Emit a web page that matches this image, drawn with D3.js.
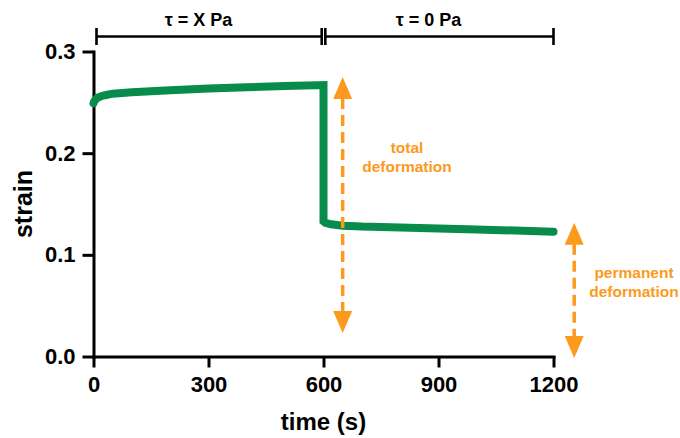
<!DOCTYPE html>
<html lang="en">
  <head>
    <meta charset="UTF-8" />
    <title>creep recovery</title>
    <script src="https://cdn.jsdelivr.net/npm/d3@7"></script>
    <style type="text/css">
      body { margin: 0; background: #fff; }
      .chart text { font-family: 'Liberation Sans', Arial, sans-serif; font-weight: bold; }
    </style>
  </head>
  <body>
    <div class="chart"></div>
  </body>
  <script type="text/javascript">
    // creep phase (stress on) and recovery phase (stress off)
    var creepTime = [0, 2, 5, 10, 20, 30, 50, 100, 150, 200, 300, 400, 500, 600]
    var creepStrain = [0.249, 0.251, 0.2525, 0.2545, 0.256, 0.257, 0.2585, 0.26, 0.261, 0.262, 0.2635, 0.2648, 0.266, 0.267]
    var recoveryTime = [600, 605, 620, 650, 700, 800, 900, 1000, 1100, 1200]
    var recoveryStrain = [0.133, 0.1315, 0.13, 0.1287, 0.1278, 0.127, 0.126, 0.125, 0.1239, 0.1228]

    var xTicks = [0, 300, 600, 900, 1200]
    var yTicks = [0, 0.1, 0.2, 0.3]

    var phaseLabels = ['τ = X Pa', 'τ = 0 Pa']
    var phaseBounds = [[0, 600], [600, 1200]]

    // arrows: [time, strain at tip 1, strain at tip 2]
    var arrowNames = [['total', 'deformation'], ['permanent', 'deformation']]
    var arrowTime = [650, 1254]
    var arrowFrom = [0.275, 0.1316]
    var arrowTo = [0.023, -0.0015]

    var green = '#088c4c'
    var orange = '#fb9a1c'

    var svg = d3.select('.chart').append('svg').attr('width', 680).attr('height', 438)

    var x = d3.scaleLinear().domain([0, 1200]).range([93.5, 553.5])
    var y = d3.scaleLinear().domain([0, 0.3]).range([356.5, 51.5])

    // axes
    var xAxis = svg
      .append('g')
      .attr('transform', 'translate(0,' + y(0) + ')')
      .call(d3.axisBottom(x).tickValues(xTicks).tickSize(11).tickSizeOuter(0).tickPadding(9).tickFormat(d3.format('d')))
    var yAxis = svg
      .append('g')
      .attr('transform', 'translate(' + x(0) + ',0)')
      .call(d3.axisLeft(y).tickValues(yTicks).tickSize(11).tickSizeOuter(0).tickPadding(7).tickFormat(d3.format('.1f')))

    svg.selectAll('.domain').attr('stroke', '#000').attr('stroke-width', 3).attr('stroke-linecap', 'square')
    svg.selectAll('.tick line').attr('stroke', '#000').attr('stroke-width', 3)
    svg.selectAll('.tick text').attr('fill', '#000').style('font-size', '22px')

    svg
      .append('text')
      .attr('x', (x(0) + x(1200)) / 2)
      .attr('y', 430)
      .attr('text-anchor', 'middle')
      .style('font-size', '24px')
      .text('time (s)')

    svg
      .append('text')
      .attr('transform', 'translate(32,' + (y(0) + y(0.3)) / 2 + ') rotate(-90)')
      .attr('text-anchor', 'middle')
      .style('font-size', '25px')
      .text('strain')

    // phase brackets on top
    var by = 36.5
    phaseBounds.forEach((b, i) => {
      var x0 = x(b[0]) + (i === 0 ? 3 : 1.8)
      var x1 = x(b[1]) - (i === 0 ? 1.8 : 0)
      var g = svg.append('g').attr('stroke', '#000').attr('stroke-width', 2.6)
      g.append('line').attr('x1', x0).attr('x2', x1).attr('y1', by).attr('y2', by)
      g.append('line').attr('x1', x0).attr('x2', x0).attr('y1', by - 8.5).attr('y2', by + 8.5)
      g.append('line').attr('x1', x1).attr('x2', x1).attr('y1', by - 8.5).attr('y2', by + 8.5)
      svg
        .append('text')
        .attr('x', (x(b[0]) + x(b[1])) / 2 - 10)
        .attr('y', 26)
        .attr('text-anchor', 'middle')
        .style('font-size', '18px')
        .text(phaseLabels[i])
    })

    // strain curve
    var pts = creepTime.map((t, i) => [t, creepStrain[i]]).concat(recoveryTime.map((t, i) => [t, recoveryStrain[i]]))
    var line = d3
      .line()
      .x((d) => x(d[0]))
      .y((d) => y(d[1]))
    svg
      .append('path')
      .datum(pts)
      .attr('d', line)
      .attr('fill', 'none')
      .attr('stroke', green)
      .attr('stroke-width', 8)
      .attr('stroke-linecap', 'round')
      .attr('stroke-linejoin', 'miter')

    // double headed dashed arrows
    var headH = 22
    var headW = 9.5
    arrowTime.forEach((t, i) => {
      var ax = x(t)
      var yTop = y(arrowFrom[i])
      var yBot = y(arrowTo[i])
      svg
        .append('line')
        .attr('x1', ax)
        .attr('x2', ax)
        .attr('y1', yTop + headH - 1)
        .attr('y2', yBot - headH + 1)
        .attr('stroke', orange)
        .attr('stroke-width', 3.5)
        .attr('stroke-dasharray', '11,6')
      svg
        .append('path')
        .attr('d', 'M' + ax + ',' + yTop + 'L' + (ax + headW) + ',' + (yTop + headH) + 'L' + (ax - headW) + ',' + (yTop + headH) + 'Z')
        .attr('fill', orange)
      svg
        .append('path')
        .attr('d', 'M' + ax + ',' + yBot + 'L' + (ax + headW) + ',' + (yBot - headH) + 'L' + (ax - headW) + ',' + (yBot - headH) + 'Z')
        .attr('fill', orange)
    })

    // annotation texts
    var noteX = [407, 634]
    var noteY = [152.5, 278]
    arrowNames.forEach((words, i) => {
      words.forEach((w, j) => {
        svg
          .append('text')
          .attr('x', noteX[i])
          .attr('y', noteY[i] + j * 19)
          .attr('text-anchor', 'middle')
          .attr('fill', orange)
          .style('font-size', '15.5px')
          .text(w)
      })
    })
  </script>
</html>
